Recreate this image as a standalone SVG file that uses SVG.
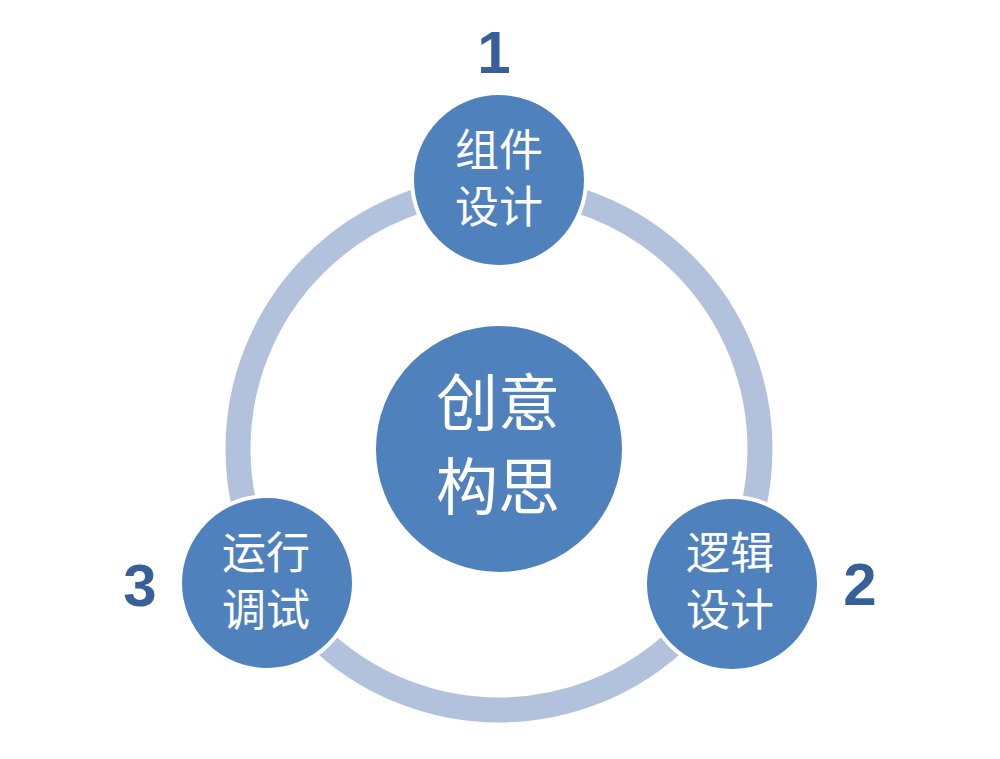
<svg xmlns="http://www.w3.org/2000/svg" width="1000" height="759" viewBox="0 0 1000 759">
<style>
.node{fill:#4F81BD;stroke:#FFFFFF;stroke-width:4}
.lbl{font-family:"Liberation Sans","Noto Sans CJK SC",sans-serif;fill:#FFFFFF;text-anchor:middle;font-size:44px}
.big{font-size:62px}
.num{font-family:"Liberation Sans",Arial,sans-serif;font-weight:bold;font-size:60px;fill:#37609A;text-anchor:middle}
</style>
<rect width="1000" height="759" fill="#FFFFFF"/>
<g id="connectors">
<circle cx="499" cy="449" r="261" fill="none" stroke="#B2C1DC" stroke-width="25"/>
</g>
<g id="center">
<circle class="node" cx="499" cy="449" r="125"/>
<text class="lbl big"><tspan x="498" y="426">创意</tspan><tspan x="498" y="510">构思</tspan></text>
</g>
<g id="node1">
<circle class="node" cx="499" cy="180" r="87"/>
<text class="lbl"><tspan x="499" y="166">组件</tspan><tspan x="499" y="223">设计</tspan></text>
<text class="num" x="494" y="73">1</text>
</g>
<g id="node2">
<circle class="node" cx="732" cy="584" r="87"/>
<text class="lbl"><tspan x="730" y="569">逻辑</tspan><tspan x="730" y="626">设计</tspan></text>
<text class="num" x="860" y="605">2</text>
</g>
<g id="node3">
<circle class="node" cx="267" cy="583" r="87"/>
<text class="lbl"><tspan x="266" y="569">运行</tspan><tspan x="266" y="626">调试</tspan></text>
<text class="num" x="140" y="606">3</text>
</g>
</svg>
